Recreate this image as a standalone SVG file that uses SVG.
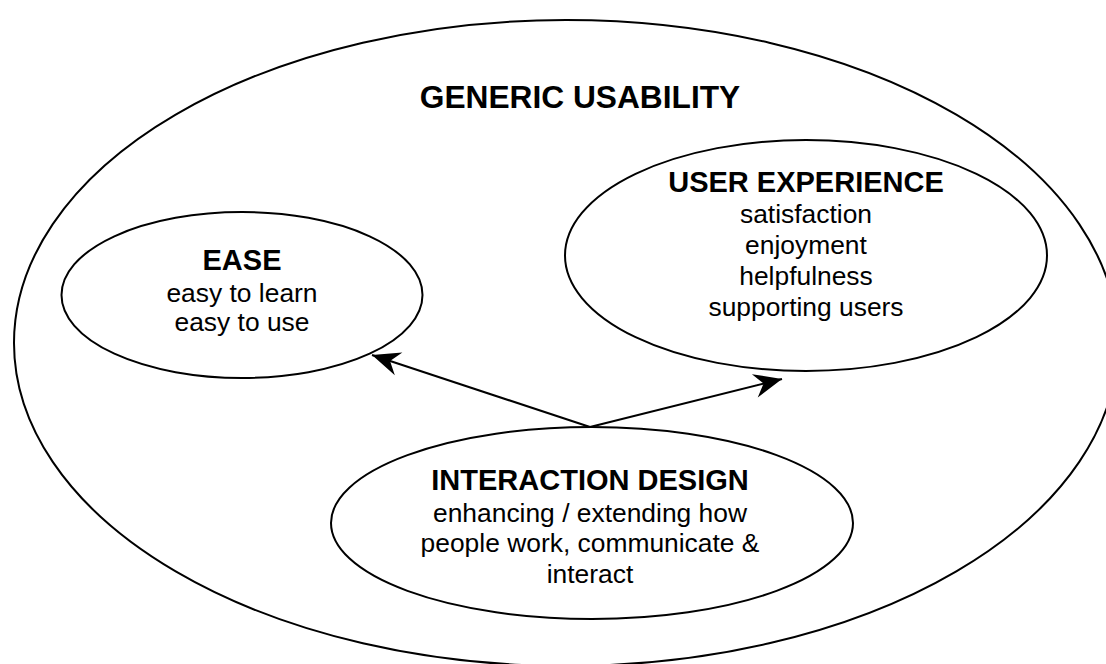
<svg xmlns="http://www.w3.org/2000/svg" width="1106" height="664" viewBox="0 0 1106 664">
  <style>
    .shape { fill: none; stroke: #000; stroke-width: 2; }
    .edge { fill: none; stroke: #000; stroke-width: 2; }
    .title { font-family: "Liberation Sans", Arial, sans-serif; font-weight: bold; font-size: 31.7px; text-anchor: middle; fill: #000; }
    .head { font-family: "Liberation Sans", Arial, sans-serif; font-weight: bold; font-size: 29px; text-anchor: middle; fill: #000; }
    .body { font-family: "Liberation Sans", Arial, sans-serif; font-size: 26.4px; text-anchor: middle; fill: #000; }
  </style>
  <defs>
    <marker id="arrow" markerUnits="userSpaceOnUse" viewBox="-30 -14 32 28" refX="0" refY="0" markerWidth="32" markerHeight="28" orient="auto">
      <path d="M0,0 L-28,-12 L-19,0 L-28,12 Z" fill="#000" stroke="none"/>
    </marker>
  </defs>
  <rect width="1106" height="664" fill="#fff"/>

  <g id="generic-usability">
    <ellipse class="shape" cx="566" cy="343" rx="552" ry="323"/>
    <text class="title" x="580" y="108">GENERIC USABILITY</text>
  </g>

  <g id="ease">
    <ellipse class="shape" cx="242" cy="295" rx="180.5" ry="83"/>
    <text class="head" x="242" y="270">EASE</text>
    <text class="body" x="242" y="301.5">easy to learn</text>
    <text class="body" x="242" y="331">easy to use</text>
  </g>

  <g id="user-experience">
    <ellipse class="shape" cx="806" cy="255.5" rx="241" ry="115.5"/>
    <text class="head" x="806" y="192">USER EXPERIENCE</text>
    <text class="body" x="806" y="223">satisfaction</text>
    <text class="body" x="806" y="254">enjoyment</text>
    <text class="body" x="806" y="285">helpfulness</text>
    <text class="body" x="806" y="315.5">supporting users</text>
  </g>

  <g id="interaction-design">
    <ellipse class="shape" cx="592" cy="523" rx="261" ry="96"/>
    <text class="head" x="590" y="490">INTERACTION DESIGN</text>
    <text class="body" x="590" y="521.5">enhancing / extending how</text>
    <text class="body" x="590" y="552">people work, communicate &amp;</text>
    <text class="body" x="590" y="582.5">interact</text>
  </g>

  <g id="connectors">
    <line class="edge" x1="590" y1="427" x2="372" y2="355" marker-end="url(#arrow)"/>
    <line class="edge" x1="590" y1="427" x2="782" y2="379" marker-end="url(#arrow)"/>
  </g>
</svg>
